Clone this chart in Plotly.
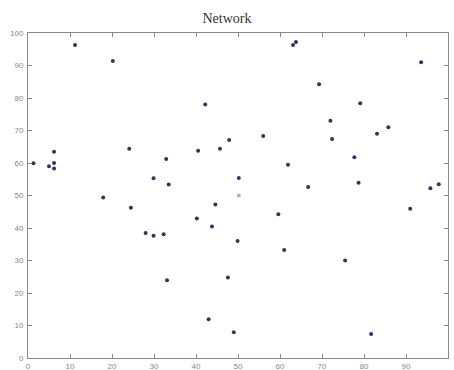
import plotly.graph_objects as go

node_x = [1.3, 5.0, 6.2, 6.2, 6.2, 11.2, 20.2, 24.1, 32.9, 29.9, 63.1, 63.8, 42.2, 40.5,
          45.7, 47.9, 56.0, 61.9, 50.2, 93.6, 69.3, 79.1, 72.0, 72.4, 85.8, 83.1, 77.7,
          33.5, 17.9, 24.5, 28.0, 29.9, 32.3, 33.1, 66.7, 44.6, 40.2, 43.8, 49.9, 59.6,
          61.0, 47.6, 43.0, 49.0, 78.7, 95.8, 97.8, 91.0, 75.5, 81.7]
node_y = [59.9, 59.0, 63.5, 60.0, 58.3, 96.3, 91.4, 64.4, 61.2, 55.3, 96.3, 97.2, 78.0, 63.8,
          64.4, 67.1, 68.3, 59.5, 55.4, 91.0, 84.2, 78.4, 73.0, 67.4, 71.0, 69.0, 61.8,
          53.4, 49.4, 46.2, 38.5, 37.6, 38.1, 23.9, 52.6, 47.2, 42.9, 40.5, 36.0, 44.2,
          33.2, 24.8, 11.9, 7.9, 53.9, 52.2, 53.5, 45.9, 30.0, 7.4]
center_x = [50.2]
center_y = [50.0]

ticks = [0, 10, 20, 30, 40, 50, 60, 70, 80, 90, 100]

fig = go.Figure()
fig.add_trace(go.Scatter(x=node_x, y=node_y, mode="markers",
                         marker=dict(size=4, color="#33335e", line=dict(width=0)),
                         showlegend=False))
fig.add_trace(go.Scatter(x=center_x, y=center_y, mode="markers",
                         marker=dict(size=4, color="#b8b49a", line=dict(width=0)),
                         showlegend=False))

axis_common = dict(range=[0, 100], tickvals=ticks, ticktext=[str(t) for t in ticks],
                   ticks="inside", ticklen=4, tickcolor="#888", tickwidth=1,
                   showline=True, linecolor="#888", linewidth=1, mirror="ticks",
                   showgrid=False, zeroline=False, automargin=False,
                   tickfont=dict(family="Liberation Sans, Arial", size=8, color="#888"))

fig.update_layout(
    width=454, height=370,
    margin=dict(l=28, r=6, t=33, b=12),
    paper_bgcolor="white", plot_bgcolor="white",
    template="none",
    title=dict(text="Network", x=0.5, xanchor="center", y=1 - 18 / 370, yanchor="middle",
               font=dict(family="Liberation Serif, Times New Roman", size=14, color="#333")),
    xaxis=dict(**axis_common),
    yaxis=dict(**axis_common, ticklabelstandoff=2),
)
fig.update_xaxes(ticklabelstandoff=0)
fig.write_html("out.html", config={"displayModeBar": False, "staticPlot": True})

with open("out.html", "r", encoding="utf-8") as f:
    html = f.read()
html = html.replace("<head>", "<head><style>html,body{margin:0;padding:0;overflow:hidden;}</style>", 1)
with open("out.html", "w", encoding="utf-8") as f:
    f.write(html)
